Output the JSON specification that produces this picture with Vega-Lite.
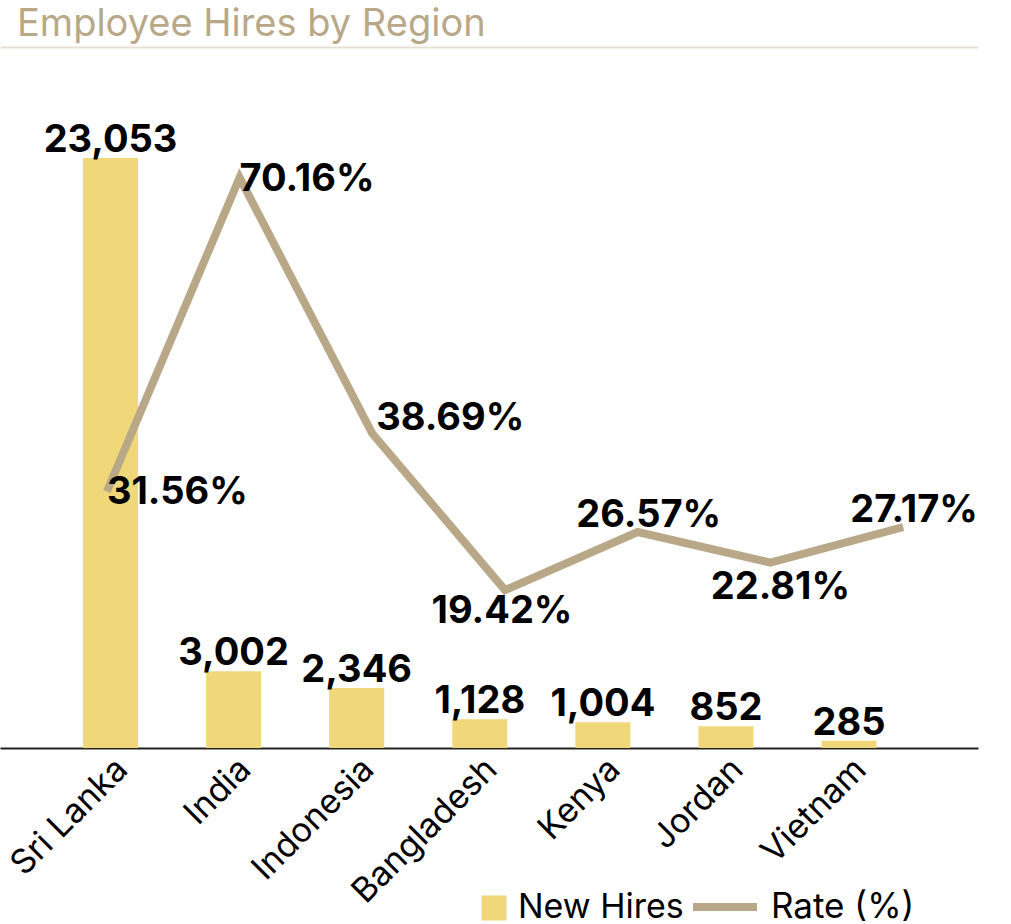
{
  "$schema": "https://vega.github.io/schema/vega-lite/v6.json",
  "width": 978,
  "height": 691,
  "autosize": {"type": "none"},
  "padding": {"top": 57, "left": 0, "right": 33, "bottom": 176},
  "background": "white",
  "title": {
    "text": "Employee Hires by Region",
    "anchor": "start",
    "dx": 17,
    "offset": 3,
    "font": "Inter",
    "fontSize": 38,
    "fontWeight": "normal",
    "color": "#b9a888"
  },
  "data": {
    "values": [
      {"region": "Sri Lanka", "hires": 23053, "rate": 0.3156},
      {"region": "India", "hires": 3002, "rate": 0.7016},
      {"region": "Indonesia", "hires": 2346, "rate": 0.3869},
      {"region": "Bangladesh", "hires": 1128, "rate": 0.1942},
      {"region": "Kenya", "hires": 1004, "rate": 0.2657},
      {"region": "Jordan", "hires": 852, "rate": 0.2281},
      {"region": "Vietnam", "hires": 285, "rate": 0.2717}
    ]
  },
  "config": {
    "view": {"stroke": null},
    "font": "Inter",
    "text": {"font": "Inter", "fontSize": 38, "fontWeight": "bold", "color": "#000"}
  },
  "layer": [
    {
      "encoding": {
        "x": {
          "field": "region",
          "type": "nominal",
          "sort": null,
          "scale": {"paddingInner": 0.553, "paddingOuter": 0.749, "align": 0.45},
          "axis": {
            "title": null,
            "orient": "bottom",
            "labelAngle": -45,
            "labelFont": "Inter",
            "labelFontSize": 34,
            "labelColor": "#000",
            "labelPadding": 4,
            "labelLimit": 0,
            "ticks": false,
            "domainColor": "#222",
            "domainWidth": 2
          }
        },
        "y": {
          "field": "hires",
          "type": "quantitative",
          "scale": {"domain": [0, 27000], "nice": false},
          "axis": null
        }
      },
      "layer": [
        {
          "mark": {"type": "bar"},
          "encoding": {
            "color": {
              "datum": "New Hires",
              "type": "nominal",
              "scale": {"domain": ["New Hires"], "range": ["#efd77a"]},
              "legend": {
                "title": null,
                "orient": "none",
                "legendX": 477,
                "legendY": 834,
                "padding": 0,
                "symbolType": "square",
                "symbolSize": 625,
                "symbolStrokeWidth": 0,
                "labelFont": "Inter",
                "labelFontSize": 34,
                "labelColor": "#000",
                "labelOffset": 7,
                "labelLimit": 0
              }
            }
          }
        },
        {
          "mark": {"type": "text", "baseline": "alphabetic", "dy": -6},
          "encoding": {
            "text": {"field": "hires", "type": "quantitative", "format": ",d"}
          }
        }
      ]
    },
    {
      "encoding": {
        "x": {
          "field": "region",
          "type": "nominal",
          "sort": null,
          "scale": {"type": "point", "padding": 0.685, "align": 0.588},
          "axis": {
            "title": null,
            "orient": "top",
            "labels": false,
            "ticks": false,
            "offset": 10,
            "domainColor": "#e7e1d5",
            "domainWidth": 2
          }
        },
        "y": {
          "field": "rate",
          "type": "quantitative",
          "scale": {"domain": [0, 0.85], "nice": false},
          "axis": null
        }
      },
      "layer": [
        {
          "mark": {"type": "line", "strokeWidth": 8, "strokeJoin": "miter", "strokeCap": "butt"},
          "encoding": {
            "stroke": {
              "datum": "Rate (%)",
              "type": "nominal",
              "scale": {"domain": ["Rate (%)"], "range": ["#b9a887"]},
              "legend": {
                "title": null,
                "orient": "none",
                "legendX": 689,
                "legendY": 814,
                "padding": 0,
                "symbolType": "stroke",
                "symbolSize": 4096,
                "symbolStrokeWidth": 8,
                "labelFont": "Inter",
                "labelFontSize": 35,
                "labelColor": "#000",
                "labelOffset": 10,
                "labelLimit": 0
              }
            }
          }
        },
        {
          "transform": [{"filter": "datum.region === 'Sri Lanka' || datum.region === 'India'"}],
          "mark": {"type": "text", "align": "left", "baseline": "middle", "dx": 0, "dy": 2},
          "encoding": {"text": {"field": "rate", "type": "quantitative", "format": ".2%"}}
        },
        {
          "transform": [{"filter": "datum.region === 'Indonesia'"}],
          "mark": {"type": "text", "align": "left", "baseline": "middle", "dx": 4, "dy": -14},
          "encoding": {"text": {"field": "rate", "type": "quantitative", "format": ".2%"}}
        },
        {
          "transform": [{"filter": "datum.region === 'Kenya' || datum.region === 'Vietnam'"}],
          "mark": {"type": "text", "align": "center", "baseline": "middle", "dx": 11, "dy": -16},
          "encoding": {"text": {"field": "rate", "type": "quantitative", "format": ".2%"}}
        },
        {
          "transform": [{"filter": "datum.region === 'Bangladesh'"}],
          "mark": {"type": "text", "align": "center", "baseline": "middle", "dx": -3, "dy": 22},
          "encoding": {"text": {"field": "rate", "type": "quantitative", "format": ".2%"}}
        },
        {
          "transform": [{"filter": "datum.region === 'Jordan'"}],
          "mark": {"type": "text", "align": "center", "baseline": "middle", "dx": 10, "dy": 25},
          "encoding": {"text": {"field": "rate", "type": "quantitative", "format": ".2%"}}
        }
      ]
    }
  ],
  "resolve": {"scale": {"x": "independent", "y": "independent"}}
}
